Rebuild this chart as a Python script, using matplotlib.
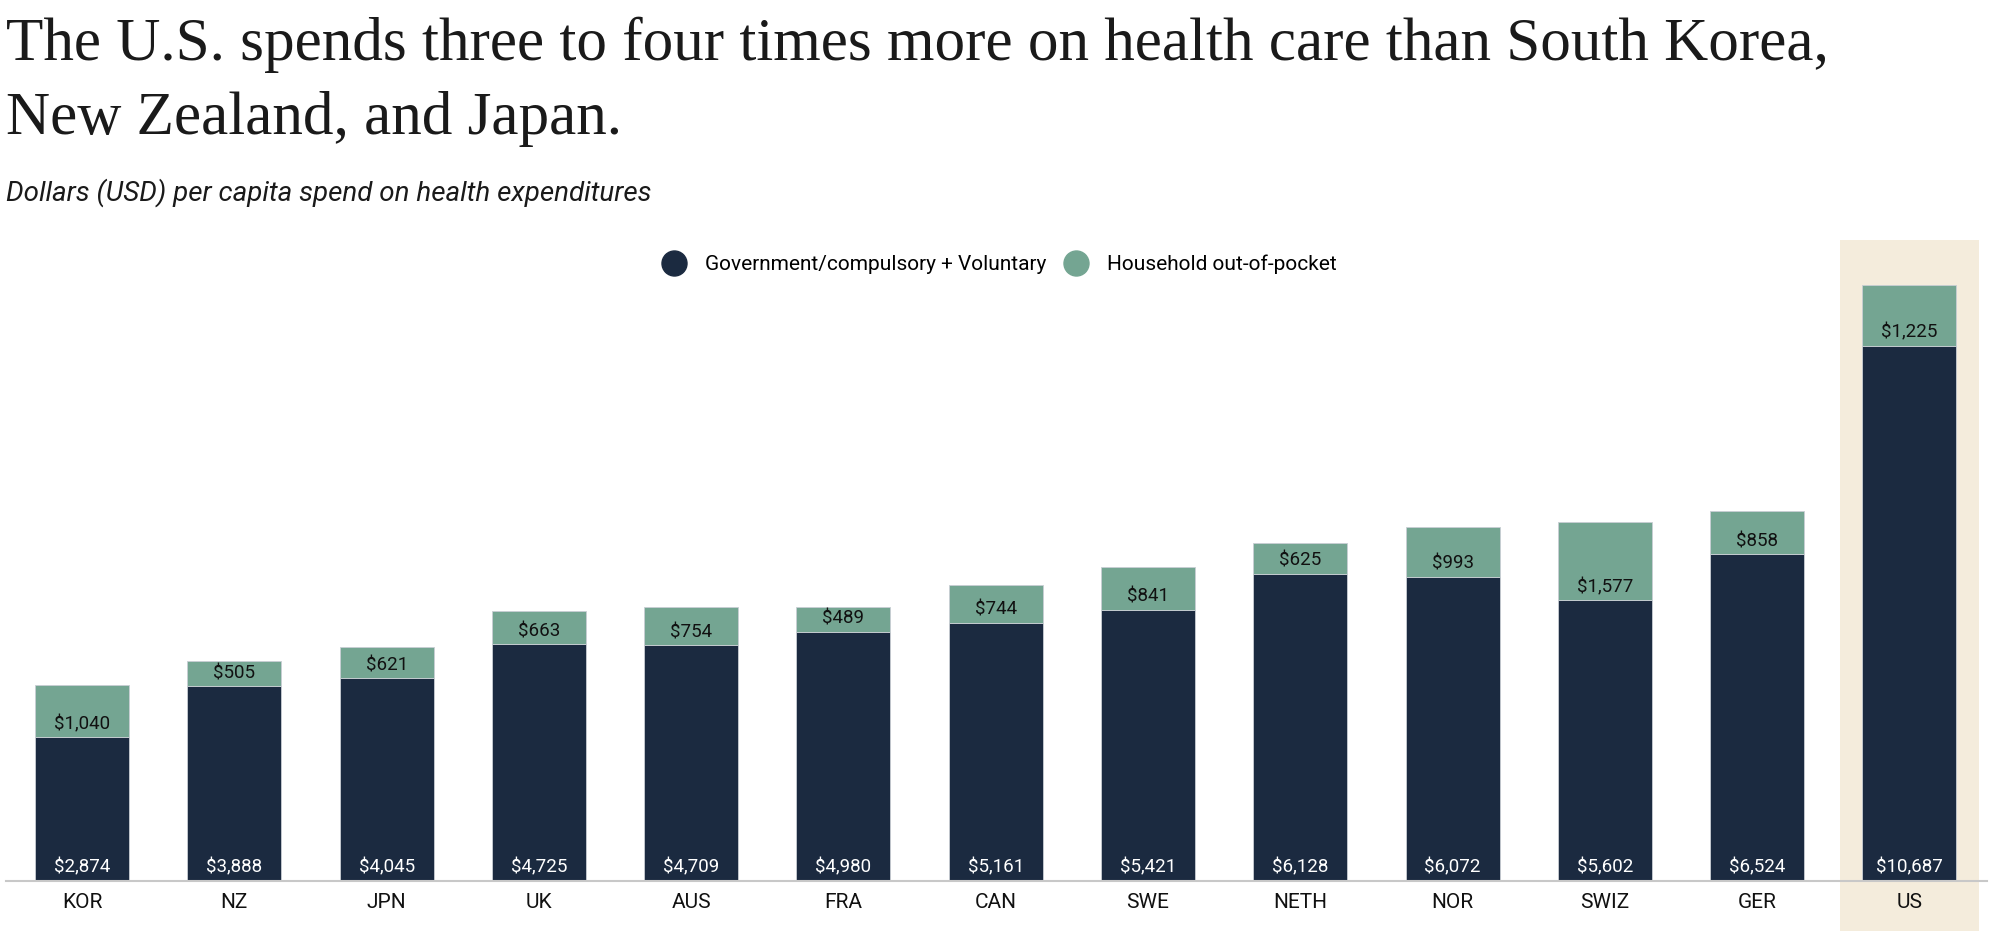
import matplotlib.pyplot as plt
from matplotlib.lines import Line2D
from matplotlib.patches import Rectangle

countries = ['KOR', 'NZ', 'JPN', 'UK', 'AUS', 'FRA', 'CAN', 'SWE', 'NETH', 'NOR', 'SWIZ', 'GER', 'US']
gov_vol = [2874, 3888, 4045, 4725, 4709, 4980, 5161, 5421, 6128, 6072, 5602, 6524, 10687]
out_of_pocket = [1040, 505, 621, 663, 754, 489, 744, 841, 625, 993, 1577, 858, 1225]

navy = '#1b2a40'
green = '#74a592'
beige = '#f4ecdc'

sans = ['Roboto', 'DejaVu Sans']
serif = ['Liberation Serif', 'DejaVu Serif']

fig = plt.figure(figsize=(20, 9.42), dpi=100)
ax = fig.add_axes([0.003, 0.0648, 0.9905, 0.6806])

x = list(range(len(countries)))
ax.bar(x, gov_vol, width=0.617, color=navy, edgecolor='#c9ced4', linewidth=0.6, zorder=2)
ax.bar(x, out_of_pocket, width=0.617, bottom=gov_vol, color=green, edgecolor='#c9ced4',
       linewidth=0.6, zorder=2)

# highlight behind the US bar
us = len(countries) - 1
ax.add_patch(Rectangle((us - 0.457, -1000), 0.914, 12806 + 1000, facecolor=beige,
                       edgecolor='none', zorder=0, clip_on=False))

for i in x:
    ax.annotate(f'${gov_vol[i]:,}', (i, 0), xytext=(0, 3), textcoords='offset points',
                ha='center', va='bottom', color='white', fontsize=13.5, family=sans, zorder=3)
    ax.annotate(f'${out_of_pocket[i]:,}', (i, gov_vol[i]), xytext=(0, 3),
                textcoords='offset points', ha='center', va='bottom', color='#111111',
                fontsize=13.5, family=sans, zorder=3)

ax.set_xlim(-0.5, 12.51)
ax.set_ylim(0, 12806)
ax.set_xticks(x)
ax.set_xticklabels(countries, fontsize=15, family=sans, color='#111111')
ax.tick_params(axis='x', length=0, pad=9)
ax.set_yticks([])
for s in ['top', 'right', 'left']:
    ax.spines[s].set_visible(False)
ax.spines['bottom'].set_color('#c8c8c8')
ax.spines['bottom'].set_linewidth(1.5)
ax.spines['bottom'].set_zorder(4)

handles = [
    Line2D([], [], marker='o', linestyle='none', markersize=18, color=navy),
    Line2D([], [], marker='o', linestyle='none', markersize=18, color=green),
]
fig.legend(handles, ['Government/compulsory + Voluntary', 'Household out-of-pocket'],
           loc='center', bbox_to_anchor=(0.5, 0.719), ncol=2, frameon=False,
           prop={'family': sans, 'size': 15}, handletextpad=1.0, columnspacing=0.9,
           handlelength=1.0)

fig.text(0.003, 0.982, 'The U.S. spends three to four times more on health care than South Korea,\nNew Zealand, and Japan.',
         ha='left', va='top', fontsize=44, family=serif, color='#1a1a1a', linespacing=1.4)
fig.text(0.003, 0.787, 'Dollars (USD) per capita spend on health expenditures', ha='left',
         va='baseline', fontsize=20, family=sans, style='italic', color='#1a1a1a')

fig.savefig('out.png', dpi=100)
